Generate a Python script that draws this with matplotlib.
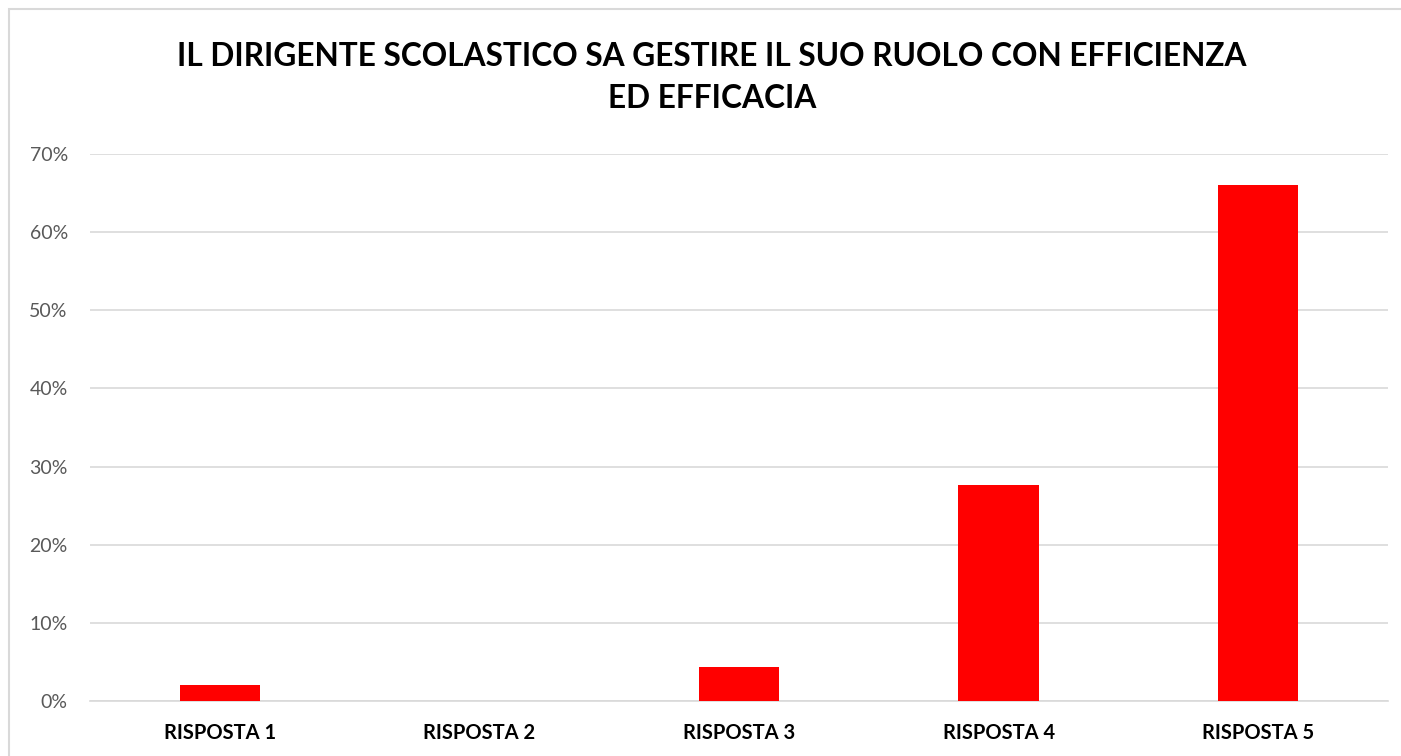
import matplotlib.pyplot as plt
from matplotlib.patches import Rectangle
from matplotlib.ticker import PercentFormatter

categories = ["RISPOSTA 1", "RISPOSTA 2", "RISPOSTA 3", "RISPOSTA 4", "RISPOSTA 5"]
values = [2.1, 0.0, 4.3, 27.7, 66.0]
yticks = [0, 10, 20, 30, 40, 50, 60, 70]
title = "IL DIRIGENTE SCOLASTICO SA GESTIRE IL SUO RUOLO CON EFFICIENZA\nED EFFICACIA"


def main():
    plt.rcParams['font.family'] = ['Lato', 'DejaVu Sans']
    W, H = 1401, 756
    fig = plt.figure(figsize=(W / 100, H / 100), dpi=100)

    # chart border
    fig.patches.append(Rectangle((9 / W, -0.1), 1.2, 1.1 - 9 / H, transform=fig.transFigure,
                                 fill=False, edgecolor='#d9d9d9', linewidth=1.5))

    ax = fig.add_axes([90 / W, 1 - 701 / H, (1388 - 90) / W, (701 - 154) / H])
    x = range(len(categories))
    ax.bar(x, values, width=0.31, color='#ff0000', zorder=3)

    ax.set_xlim(-0.5, len(categories) - 0.5)
    ax.set_ylim(0, 70)
    ax.set_yticks(yticks)
    ax.yaxis.set_major_formatter(PercentFormatter(decimals=0))
    ax.set_xticks(list(x))
    ax.set_xticklabels(categories, fontsize=14.5, fontweight='bold', color='#000000')
    ax.tick_params(axis='y', labelsize=14, labelcolor='#595959', length=0, pad=16)
    ax.tick_params(axis='x', length=0, pad=16)
    ax.grid(axis='y', color='#d9d9d9', linewidth=1.2, zorder=0)
    for s in ['top', 'right', 'left']:
        ax.spines[s].set_visible(False)
    ax.spines['bottom'].set_color('#d9d9d9')
    ax.spines['bottom'].set_linewidth(1.2)

    fig.text(712 / W, 1 - 42 / H, title, ha='center', va='top', fontsize=22.8,
             fontweight='bold', color='#000000', linespacing=1.53)

    fig.savefig("out.png", dpi=100)


if __name__ == "__main__":
    main()
